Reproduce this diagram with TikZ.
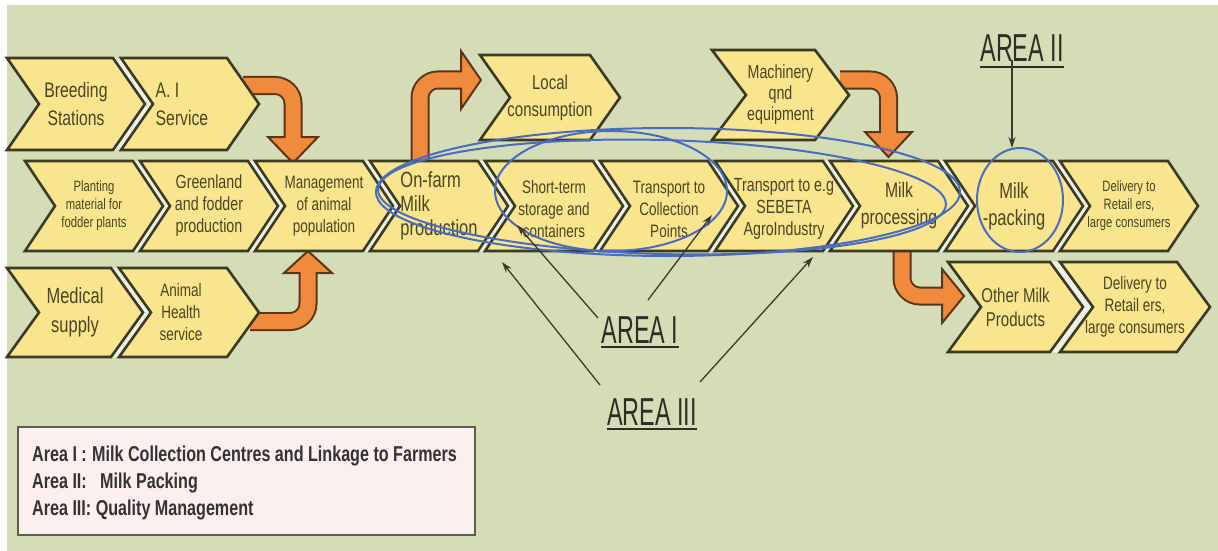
\documentclass[tikz,border=0pt]{standalone}
\usepackage{fontspec}
\setmainfont{Liberation Sans}[FakeStretch=0.75]
\newfontfamily\areafont{Liberation Sans}[FakeStretch=0.6]
\usetikzlibrary{arrows.meta,calc}
\definecolor{bgcol}{HTML}{D5DDB6}
\definecolor{chevfill}{HTML}{F9E58E}
\definecolor{chevline}{HTML}{3B3A22}
\definecolor{gapcol}{HTML}{EEF1E6}
\definecolor{txtcol}{HTML}{4A4520}
\definecolor{orangec}{HTML}{F08A3C}
\definecolor{oline}{HTML}{5E3418}
\definecolor{bluec}{HTML}{4A6CC0}
\definecolor{arrowc}{HTML}{3A3A2A}
\definecolor{areatext}{HTML}{2E2E25}
\definecolor{legfill}{HTML}{FCEFEF}
\definecolor{legline}{HTML}{5A5F50}
\definecolor{legtext}{HTML}{333333}
\newcommand\fs[2]{\fontsize{#1}{#2}\selectfont}
% #1 name, #2 x, #3 top, #4 bottom, #5 width, #6 depth, #7 node options, #8 text
\newcommand\chev[8]{%
  \path[chevbox] (#2,#3) -- ({#2+#5},#3) -- ({#2+#5+#6},{(#3+#4)/2}) -- ({#2+#5},#4)
     -- (#2,#4) -- ({#2+#6},{(#3+#4)/2}) -- cycle;
  \node[chevtext,#7] (#1) at ({#2+#5/2+#6/2},{(#3+#4)/2}) {#8};}
% light band behind a row of chevrons: #1 x start, #2 x end, #3 top, #4 bottom, #5 depth
\newcommand\chevgap[5]{%
  \path[gapfill] (#1,#3) -- (#2,#3) -- ({#2+#5},{(#3+#4)/2}) -- (#2,#4)
     -- (#1,#4) -- ({#1+#5},{(#3+#4)/2}) -- cycle;}
\begin{document}
\begin{tikzpicture}[x=1pt,y=-1pt,
  chevbox/.style={fill=chevfill,draw=chevline,line width=2.6pt,line join=miter},
  chevtext/.style={text=txtcol,align=center,inner sep=0pt},
  gapfill/.style={fill=gapcol},
  oshaft/.style={draw=oline,line width=19pt,rounded corners=18pt},
  oshaftin/.style={draw=orangec,line width=15pt,rounded corners=18pt},
  ohead/.style={fill=orangec,draw=oline,line width=2pt,line join=miter},
  blueline/.style={draw=bluec,line width=2pt},
  areaarrow/.style={draw=arrowc,line width=1.3pt,-{Stealth[length=11pt,width=7pt]}},
  arealabel/.style={font=\areafont\fontsize{39}{40}\selectfont,text=areatext,inner sep=0pt,anchor=base},
  underl/.style={draw=areatext,line width=2pt},
  legendbox/.style={fill=legfill,draw=legline,line width=2pt},
  legendtext/.style={font=\bfseries\fs{21.5}{26},text=legtext,inner sep=0pt,anchor=base west}
]
\useasboundingbox (0,0) rectangle (1218,551);
\fill[white] (0,0) rectangle (1218,551);
\fill[bgcol] (7,5) rectangle (1218,551);

% ---------- orange arrows (outer shafts and heads) ----------
\coordinate (o1a) at (243,85.5); \coordinate (o1b) at (293,85.5); \coordinate (o1c) at (293,139);
\coordinate (o2a) at (250,321.5); \coordinate (o2b) at (308,321.5); \coordinate (o2c) at (308,271);
\coordinate (o3a) at (420,166); \coordinate (o3b) at (420,80); \coordinate (o3c) at (463,80);
\coordinate (o4a) at (840,80); \coordinate (o4b) at (888.5,80); \coordinate (o4c) at (888.5,134);
\coordinate (o5a) at (902,245); \coordinate (o5b) at (902,296); \coordinate (o5c) at (944,296);

\draw[oshaft] (o1a) -- (o1b) -- (o1c);
\draw[ohead] (268,137) -- (318,137) -- (293,163) -- cycle;
\draw[oshaftin] (o1a) -- (o1b) -- (o1c);

\draw[oshaft] (o2a) -- (o2b) -- (o2c);
\draw[ohead] (284,273) -- (332,273) -- (308,251) -- cycle;
\draw[oshaftin] (o2a) -- (o2b) -- (o2c);

\draw[oshaft] (o3a) -- (o3b) -- (o3c);
\draw[ohead] (461,51) -- (461,109) -- (481,80) -- cycle;
\draw[oshaftin] (o3a) -- (o3b) -- (o3c);

\draw[oshaft] (o4a) -- (o4b) -- (o4c);
\draw[ohead] (865,132) -- (912,132) -- (888.5,157) -- cycle;
\draw[oshaftin] (o4a) -- (o4b) -- (o4c);

\draw[oshaft] (o5a) -- (o5b) -- (o5c);
\draw[ohead] (942,269) -- (942,323) -- (964,296) -- cycle;
\draw[oshaftin] (o5a) -- (o5b) -- (o5c);

% ---------- chevrons ----------
\chevgap{7}{227}{58}{150}{32}
\chev{breed}{7}{58}{150}{106}{32}{font=\fs{21}{28}}{Breeding\\Stations}
\chev{ai}{121}{58}{150}{106}{32}{font=\fs{21}{28},align=left,xshift=-8pt}{A. I\\Service}

\chev{local}{480}{55}{140}{110}{30}{font=\fs{20}{27}}{Local\\consumption}
\chev{mach}{712}{50}{140}{103}{34}{font=\fs{19}{21}}{Machinery\\qnd\\equipment}

\chevgap{25}{1168}{161}{251}{30}
\chev{plant}{25}{161}{251}{108}{30}{font=\fs{15}{18}}{Planting\\material for\\fodder plants}
\chev{green}{140}{161}{251}{108}{30}{font=\fs{19}{22}}{Greenland\\and fodder\\production}
\chev{manage}{255}{161}{251}{108}{30}{font=\fs{18}{22}}{Management\\of animal\\population}
\chev{onfarm}{370}{161}{251}{108}{30}{font=\fs{22}{24},align=left}{On-farm\\Milk\\production}
\chev{short}{485}{161}{251}{108}{30}{font=\fs{18}{22},yshift=-3pt}{Short-term\\storage and\\containers}
\chev{trcoll}{600}{161}{251}{108}{30}{font=\fs{18}{22},yshift=-3pt}{Transport to\\Collection\\Points}
\chev{trseb}{715}{161}{251}{108}{30}{font=\fs{19}{22},yshift=-3pt}{Transport to e.g\\SEBETA\\AgroIndustry}
\chev{proc}{830}{161}{251}{108}{30}{font=\fs{21}{27}}{Milk\\processing}
\chev{pack}{945}{161}{251}{108}{30}{font=\fs{22}{27}}{Milk\\-packing}
\chev{deliv1}{1060}{161}{251}{108}{30}{font=\fs{15}{18}}{Delivery to\\Retail ers,\\large consumers}

\chevgap{7}{227}{268}{357}{32}
\chev{medical}{7}{268}{357}{104}{32}{font=\fs{22}{29}}{Medical\\supply}
\chev{animal}{119}{268}{357}{108}{32}{font=\fs{18}{22},xshift=-8pt}{Animal\\Health\\service}

\chevgap{948}{1177}{262}{352}{33}
\chev{other}{948}{262}{352}{102}{33}{font=\fs{20}{24}}{Other Milk\\Products}
\chev{deliv2}{1060}{262}{352}{117}{33}{font=\fs{18}{22}}{Delivery to\\Retail ers,\\large consumers}

% ---------- blue ellipses ----------
\draw[blueline] (668,192) ellipse [x radius=292pt, y radius=64pt];
\draw[blueline,rotate around={-1.5:(662,197)}] (662,197) ellipse [x radius=284pt, y radius=57pt];
\draw[blueline] (611,191) ellipse [x radius=116pt, y radius=60pt];
\draw[blueline] (1020,200) ellipse [x radius=43pt, y radius=52pt];

% ---------- area labels and pointers ----------
\node[arealabel] (areaII) at (1022,62) {AREA II};
\node[arealabel] (areaI) at (640,343) {AREA I};
\node[arealabel] (areaIII) at (652,425) {AREA III};
\draw[underl] ([yshift=-5pt]areaII.base west) -- ([yshift=-5pt]areaII.base east);
\draw[underl] ([yshift=-4pt]areaI.base west) -- ([yshift=-4pt]areaI.base east);
\draw[underl] ([yshift=-4pt]areaIII.base west) -- ([yshift=-4pt]areaIII.base east);

\coordinate (s2) at (1012,60);  \coordinate (t2) at (1012,148);
\coordinate (s1a) at (598,318); \coordinate (t1a) at (517,225);
\coordinate (s1b) at (648,300); \coordinate (t1b) at (712,215);
\coordinate (s3a) at (600,385); \coordinate (t3a) at (502,262);
\coordinate (s3b) at (700,382); \coordinate (t3b) at (813,257);
\draw[areaarrow] (s2) -- (t2);
\draw[areaarrow] (s1a) -- (t1a);
\draw[areaarrow] (s1b) -- (t1b);
\draw[areaarrow] (s3a) -- (t3a);
\draw[areaarrow] (s3b) -- (t3b);

% ---------- legend ----------
\path[legendbox] (18,427) rectangle (475,535);
\node[legendtext] (leg1a) at (32,461) {Area I :};
\node[legendtext] (leg1b) at (92,461) {Milk Collection Centres and Linkage to Farmers};
\node[legendtext] (leg2a) at (32,488) {Area II:};
\node[legendtext] (leg2b) at (100,488) {Milk Packing};
\node[legendtext] (leg3) at (32,515) {Area III: Quality Management};
\end{tikzpicture}
\end{document}
